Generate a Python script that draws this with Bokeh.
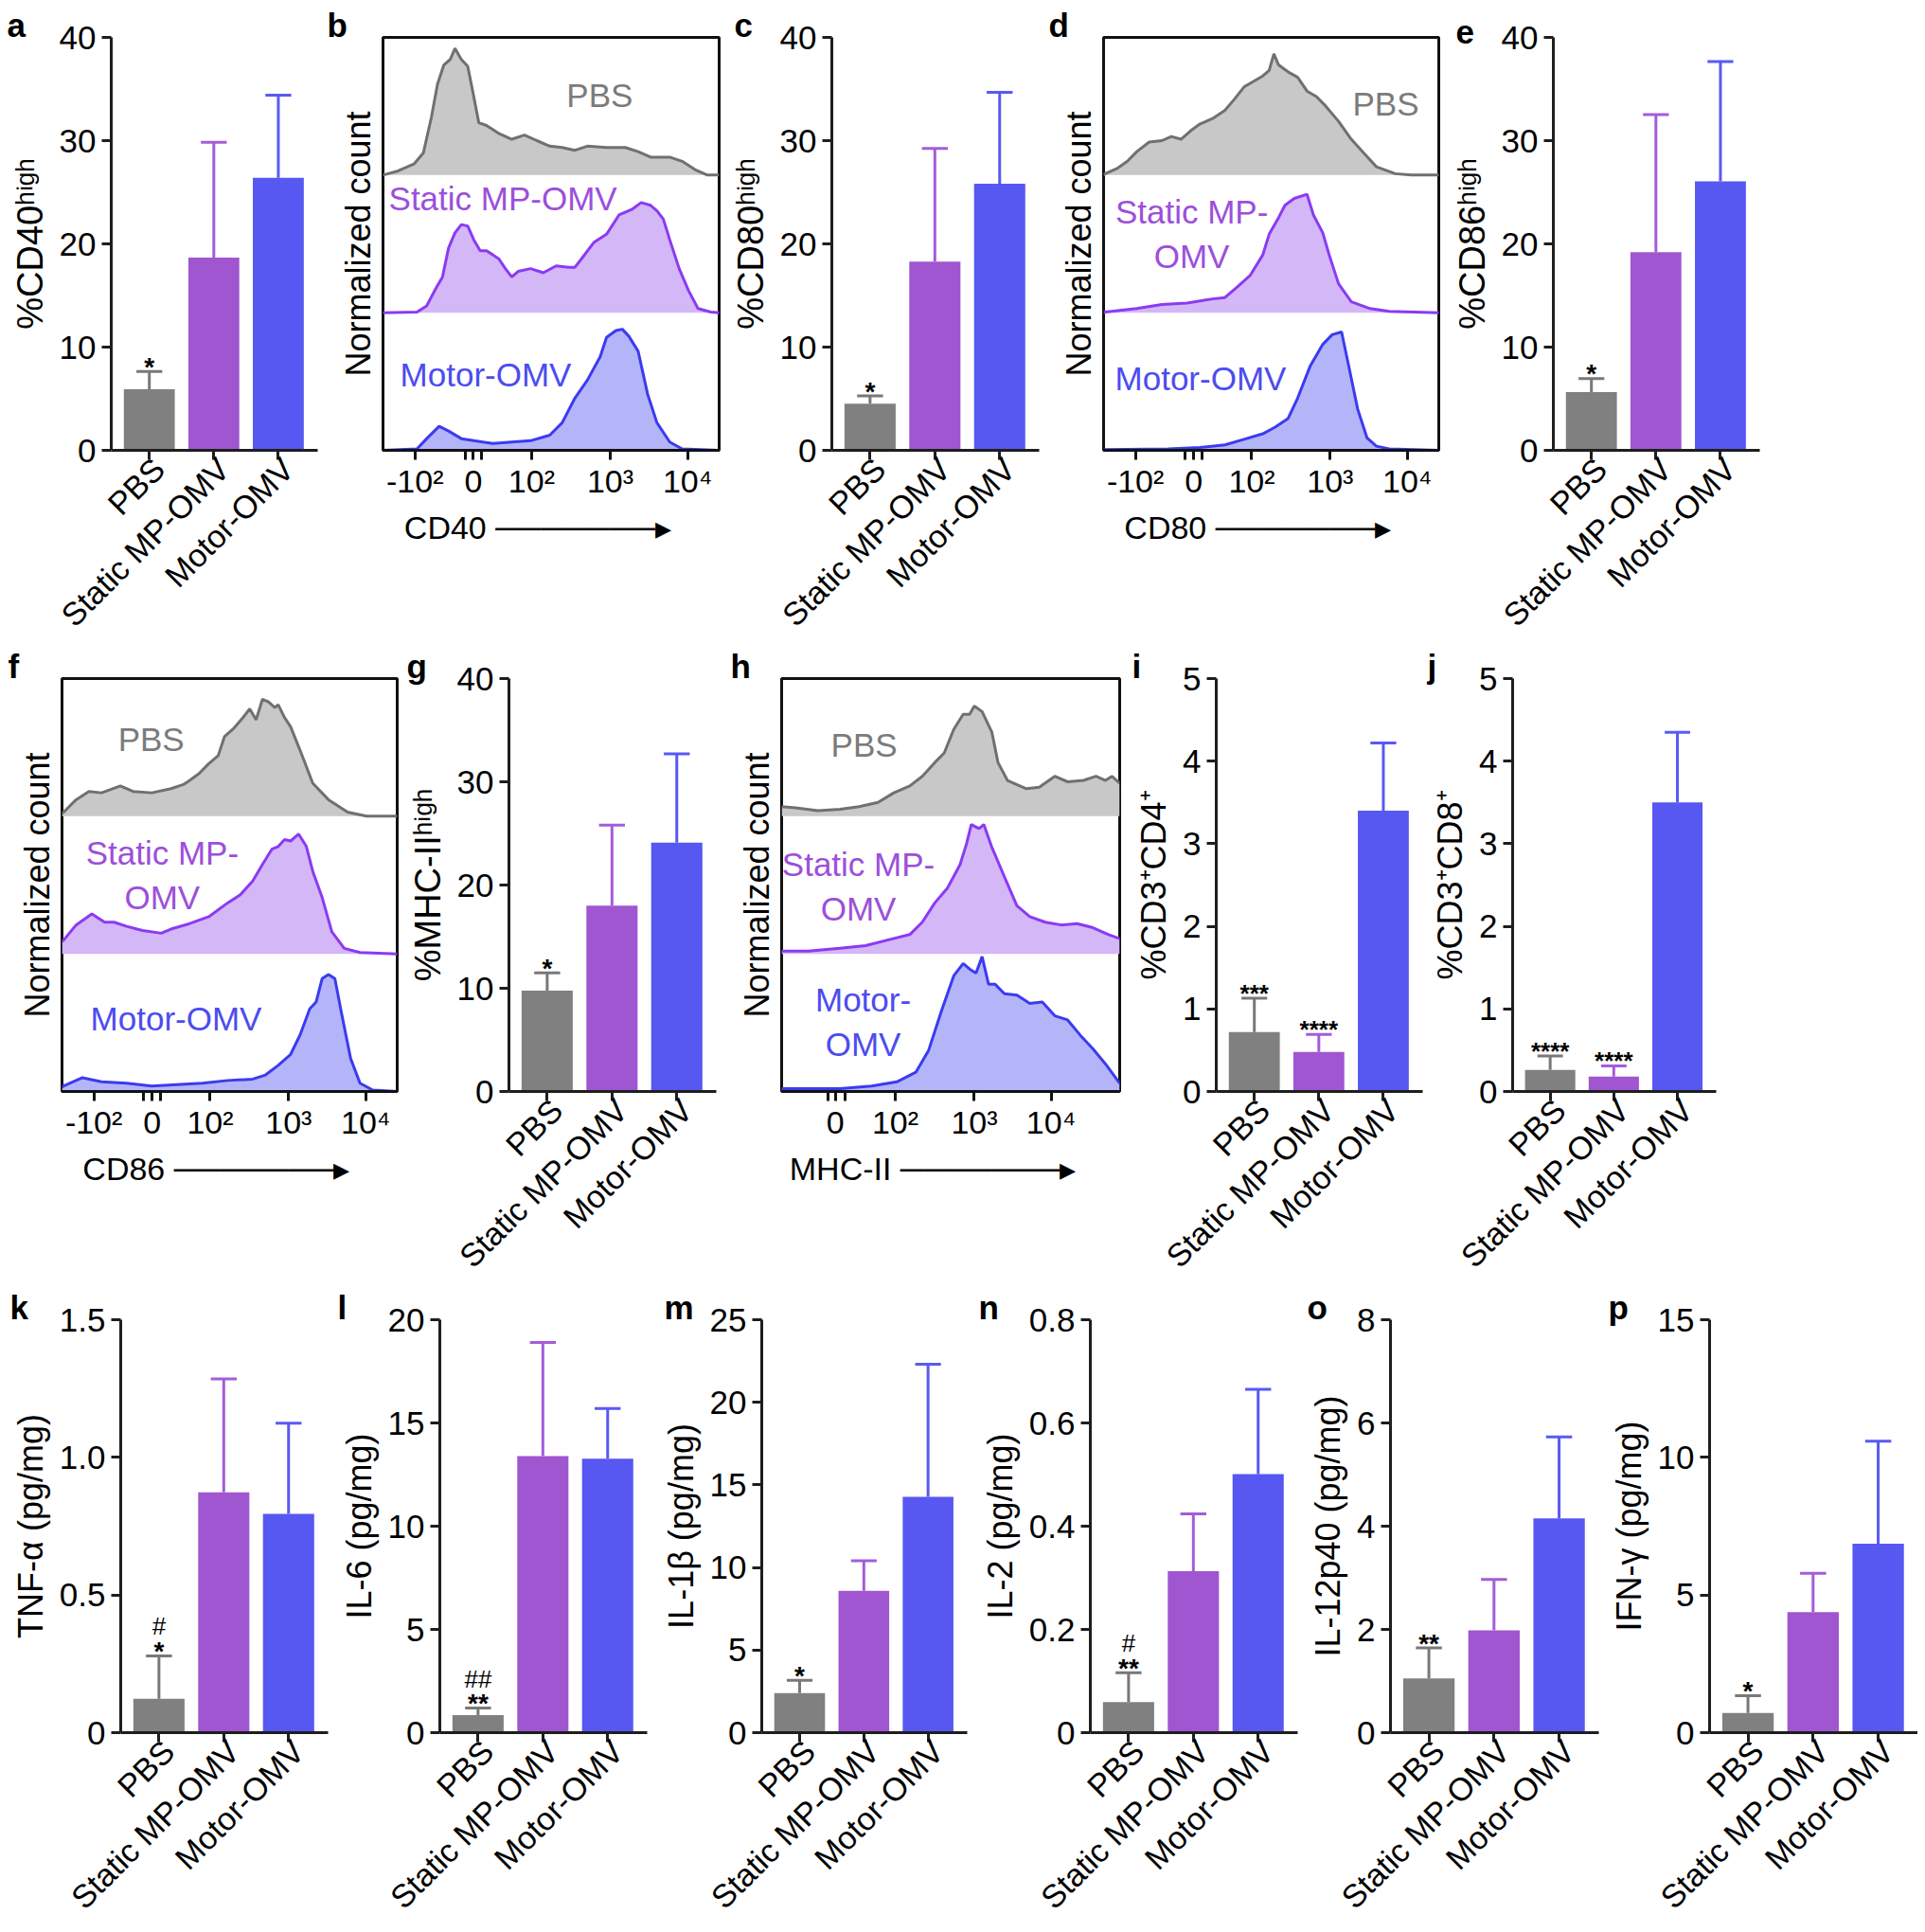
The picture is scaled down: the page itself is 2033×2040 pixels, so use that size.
import math
from bokeh.plotting import figure
from bokeh.layouts import column, row
from bokeh.models import Range1d, FixedTicker, LinearAxis
from bokeh.core.properties import value
from bokeh.embed import file_html
from bokeh.resources import INLINE

FONT = "Liberation Sans"
AXIS = "#1e1e1e"

# ---------------- categories / colours ----------------
groups = ["PBS", "Static MP-OMV", "Motor-OMV"]
bar_fill = ["#808080", "#A056D0", "#5757F2"]
err_col = ["#787878", "#A45CDA", "#5959F4"]

PBS_FILL, PBS_LINE, PBS_TXT = "#C8C8C8", "#707070", "#7B7B7B"
ST_FILL, ST_LINE, ST_TXT = "#D4B7F7", "#8A3BF2", "#9C4FDA"
MO_FILL, MO_LINE, MO_TXT = "#B4B5F8", "#3B3BF0", "#4C4CEF"

# ---------------- bar data (mean, SD) ----------------
cd40_mean = [5.92, 18.67, 26.40]; cd40_sd = [1.72, 11.16, 8.00]
cd80_mean = [4.51, 18.28, 25.83]; cd80_sd = [0.76, 10.97, 8.84]
cd86_mean = [5.64, 19.19, 26.05]; cd86_sd = [1.31, 13.34, 11.60]
mhc_mean = [9.76, 18.00, 24.10]; mhc_sd = [1.74, 7.80, 8.60]
cd4_mean = [0.72, 0.48, 3.40]; cd4_sd = [0.41, 0.21, 0.82]
cd8_mean = [0.26, 0.18, 3.50]; cd8_sd = [0.17, 0.13, 0.85]
tnf_mean = [0.123, 0.873, 0.795]; tnf_sd = [0.156, 0.412, 0.329]
il6_mean = [0.85, 13.40, 13.27]; il6_sd = [0.34, 5.50, 2.43]
il1b_mean = [2.40, 8.59, 14.28]; il1b_sd = [0.77, 1.81, 8.02]
il2_mean = [0.059, 0.313, 0.501]; il2_sd = [0.057, 0.111, 0.164]
il12_mean = [1.05, 1.98, 4.15]; il12_sd = [0.59, 0.99, 1.58]
ifng_mean = [0.71, 4.38, 6.86]; ifng_sd = [0.63, 1.41, 3.73]

# y ticks
y40_ticks = [0, 10, 20, 30, 40]; y40_lbl = ["0", "10", "20", "30", "40"]
y5_ticks = [0, 1, 2, 3, 4, 5]; y5_lbl = ["0", "1", "2", "3", "4", "5"]
tnf_ticks = [0, 0.5, 1, 1.5]; tnf_lbl = ["0", "0.5", "1.0", "1.5"]
il6_ticks = [0, 5, 10, 15, 20]; il6_lbl = ["0", "5", "10", "15", "20"]
il1b_ticks = [0, 5, 10, 15, 20, 25]; il1b_lbl = ["0", "5", "10", "15", "20", "25"]
il2_ticks = [0, 0.2, 0.4, 0.6, 0.8]; il2_lbl = ["0", "0.2", "0.4", "0.6", "0.8"]
il12_ticks = [0, 2, 4, 6, 8]; il12_lbl = ["0", "2", "4", "6", "8"]
ifng_ticks = [0, 5, 10, 15]; ifng_lbl = ["0", "5", "10", "15"]

# ---------------- histogram data (channel, normalized height) ----------------
b_pbs_ch = [0, 45, 92, 120, 144, 162, 181, 200, 214, 233, 252, 266, 285, 308, 346, 383, 421, 458, 496, 533, 571, 608, 665, 721, 759, 796, 853, 890, 928, 965, 1000]
b_pbs_h = [0.0, 0.03, 0.08, 0.16, 0.42, 0.66, 0.80, 0.84, 0.92, 0.84, 0.79, 0.62, 0.38, 0.36, 0.30, 0.26, 0.29, 0.25, 0.21, 0.20, 0.18, 0.21, 0.20, 0.20, 0.17, 0.13, 0.13, 0.10, 0.04, 0.0, 0.0]
b_st_ch = [0, 101, 130, 158, 177, 195, 214, 233, 252, 270, 289, 308, 327, 345, 364, 383, 402, 439, 477, 515, 552, 571, 590, 627, 665, 702, 740, 768, 796, 815, 834, 853, 881, 909, 937, 975, 1000]
b_st_h = [0.0, 0.005, 0.05, 0.18, 0.26, 0.47, 0.58, 0.64, 0.63, 0.53, 0.45, 0.45, 0.42, 0.39, 0.32, 0.26, 0.30, 0.32, 0.29, 0.34, 0.33, 0.33, 0.39, 0.51, 0.57, 0.71, 0.75, 0.80, 0.78, 0.74, 0.68, 0.53, 0.32, 0.16, 0.03, 0.005, 0.0]
b_mo_ch = [0, 101, 130, 167, 195, 233, 270, 327, 383, 439, 496, 533, 571, 608, 646, 665, 693, 712, 731, 759, 787, 815, 853, 890, 1000]
b_mo_h = [0.0, 0.01, 0.085, 0.175, 0.14, 0.085, 0.07, 0.05, 0.06, 0.07, 0.11, 0.20, 0.38, 0.51, 0.68, 0.82, 0.87, 0.88, 0.83, 0.72, 0.41, 0.20, 0.06, 0.01, 0.0]

d_pbs_ch = [0, 5, 42, 71, 99, 136, 174, 202, 231, 259, 287, 306, 325, 362, 390, 419, 447, 475, 494, 508, 522, 550, 579, 607, 635, 663, 701, 739, 776, 814, 870, 917, 1000]
d_pbs_h = [0.0, 0.01, 0.05, 0.10, 0.17, 0.24, 0.25, 0.28, 0.26, 0.32, 0.37, 0.39, 0.41, 0.47, 0.55, 0.64, 0.68, 0.72, 0.76, 0.88, 0.80, 0.75, 0.71, 0.61, 0.57, 0.50, 0.39, 0.26, 0.16, 0.06, 0.01, 0.0, 0.0]
d_st_ch = [0, 5, 99, 174, 249, 325, 362, 400, 437, 475, 494, 522, 541, 569, 607, 626, 654, 673, 701, 739, 795, 852, 1000]
d_st_h = [0.0, 0.005, 0.03, 0.06, 0.07, 0.10, 0.11, 0.19, 0.27, 0.42, 0.57, 0.69, 0.78, 0.83, 0.86, 0.71, 0.58, 0.42, 0.21, 0.08, 0.03, 0.01, 0.0]
d_mo_ch = [0, 5, 193, 287, 362, 419, 475, 513, 550, 579, 616, 654, 682, 710, 729, 758, 786, 814, 852, 1000]
d_mo_h = [0.0, 0.005, 0.01, 0.02, 0.04, 0.08, 0.12, 0.17, 0.23, 0.38, 0.61, 0.77, 0.84, 0.86, 0.64, 0.30, 0.09, 0.03, 0.01, 0.0]

f_pbs_ch = [0, 5, 42, 80, 118, 174, 212, 268, 325, 362, 381, 409, 437, 466, 485, 513, 541, 560, 579, 598, 616, 635, 645, 663, 682, 710, 748, 795, 852, 908, 1000]
f_pbs_h = [0.02, 0.03, 0.12, 0.18, 0.17, 0.22, 0.18, 0.17, 0.20, 0.23, 0.26, 0.31, 0.38, 0.44, 0.58, 0.64, 0.72, 0.78, 0.70, 0.85, 0.83, 0.79, 0.81, 0.72, 0.65, 0.48, 0.24, 0.12, 0.03, 0.0, 0.0]
f_st_ch = [0, 5, 42, 89, 127, 155, 193, 240, 296, 325, 381, 438, 494, 532, 569, 598, 626, 645, 664, 682, 706, 729, 748, 776, 805, 842, 889, 1000]
f_st_h = [0.09, 0.10, 0.21, 0.29, 0.23, 0.23, 0.20, 0.17, 0.15, 0.18, 0.22, 0.27, 0.37, 0.43, 0.53, 0.65, 0.76, 0.78, 0.83, 0.82, 0.87, 0.78, 0.60, 0.41, 0.16, 0.04, 0.01, 0.0]
f_mo_ch = [0, 5, 61, 118, 193, 268, 343, 419, 494, 569, 607, 645, 682, 710, 739, 758, 776, 795, 814, 833, 861, 889, 927, 1000]
f_mo_h = [0.03, 0.04, 0.10, 0.07, 0.06, 0.04, 0.05, 0.06, 0.08, 0.09, 0.12, 0.19, 0.27, 0.41, 0.60, 0.65, 0.82, 0.85, 0.82, 0.58, 0.24, 0.06, 0.01, 0.0]

h_pbs_ch = [0, 42, 107, 173, 229, 285, 332, 379, 416, 453, 481, 509, 537, 556, 570, 593, 622, 640, 668, 724, 762, 808, 846, 893, 930, 958, 977, 1000]
h_pbs_h = [0.07, 0.06, 0.04, 0.05, 0.07, 0.10, 0.17, 0.22, 0.29, 0.39, 0.46, 0.63, 0.74, 0.74, 0.80, 0.76, 0.61, 0.39, 0.26, 0.20, 0.21, 0.29, 0.25, 0.26, 0.29, 0.26, 0.29, 0.24]
h_st_ch = [0, 79, 173, 248, 313, 379, 416, 453, 491, 528, 547, 561, 584, 598, 621, 659, 696, 734, 780, 827, 874, 921, 967, 1000]
h_st_h = [0.02, 0.02, 0.04, 0.06, 0.10, 0.14, 0.23, 0.37, 0.48, 0.65, 0.80, 0.94, 0.91, 0.94, 0.78, 0.56, 0.35, 0.27, 0.23, 0.21, 0.22, 0.19, 0.14, 0.11]
h_mo_ch = [0, 173, 266, 341, 397, 435, 472, 509, 537, 556, 575, 593, 612, 631, 659, 696, 734, 771, 808, 846, 883, 921, 958, 1000]
h_mo_h = [0.02, 0.02, 0.04, 0.07, 0.14, 0.30, 0.58, 0.84, 0.93, 0.89, 0.86, 0.98, 0.78, 0.78, 0.71, 0.70, 0.64, 0.65, 0.55, 0.52, 0.41, 0.31, 0.20, 0.06]

# flow axis ticks (channel positions) and labels
bdf_ticks = [95, 269, 442, 676, 906]
bdf_lbl = ["-10\u00b2", "0", "10\u00b2", "10\u00b3", "10\u2074"]
bdf_minor = [244, 294]
h_ticks = [159, 336, 570, 797]
h_lbl = ["0", "10\u00b2", "10\u00b3", "10\u2074"]
h_minor = [136, 187]

ARROW = "\u2500" * 7 + "\u25b8"
CAT_LABEL_SHIFT = 0.15   # rotated category labels sit a little right of their tick (GraphPad style)


def base_fig(W, H, L, R, T, B, xr, yr):
    p = figure(width=W, height=H, x_range=xr, y_range=yr,
               min_border_left=L, min_border_right=R, min_border_top=T, min_border_bottom=B,
               output_backend="svg", toolbar_location=None, tools="")
    p.grid.visible = False
    p.outline_line_color = None
    p.background_fill_color = "white"
    p.border_fill_color = "white"
    return p


def add_letter(p, letter, dx):
    t = p.title
    t.text = letter
    t.align = "left"
    t.offset = dx
    t.text_font = FONT
    t.text_font_size = "35px"
    t.text_font_style = "bold"
    t.text_color = "black"
    t.standoff = -12


def bar_panel(letter, ldx, ylabel, ylab_size, means, sds, yt, yl, sig, W, H, L, R, T, B, sig_size=28):
    p = base_fig(W, H, L, R, T, B, Range1d(0.41, 3.61), Range1d(0, yt[-1]))
    xs = [1, 2, 3]
    p.vbar(x=xs, top=means, bottom=0, width=0.79, fill_color=bar_fill, line_color=None)
    tops = [m + s for m, s in zip(means, sds)]
    p.segment(x0=xs, y0=means, x1=xs, y1=tops, line_color=err_col, line_width=3)
    p.segment(x0=[x - 0.2 for x in xs], y0=tops, x1=[x + 0.2 for x in xs], y1=tops,
              line_color=err_col, line_width=3)
    for idx, low, up in sig:
        p.text(x=[xs[idx]], y=[tops[idx]], text=[low], text_align="center", text_baseline="alphabetic",
               text_font=value(FONT), text_font_size=value(f"{sig_size}px"), text_font_style="bold",
               text_color="black", y_offset=-5)
        if up:
            p.text(x=[xs[idx]], y=[tops[idx]], text=[up], text_align="center", text_baseline="alphabetic",
                   text_font=value(FONT), text_font_size=value("26px"), text_color="black", y_offset=-31)
    xa = p.xaxis[0]
    ya = p.yaxis[0]
    # tick marks only on the main x axis (its own labels are not painted)
    xa.ticker = FixedTicker(ticks=xs)
    xa.major_label_text_font_size = "1px"
    xa.major_label_text_color = None
    xa.major_label_standoff = 0
    ya.ticker = FixedTicker(ticks=yt)
    ya.major_label_overrides = {t: s for t, s in zip(yt, yl)}
    for ax in (xa, ya):
        ax.axis_line_color = AXIS
        ax.axis_line_width = 3
        ax.major_tick_line_color = AXIS
        ax.major_tick_line_width = 3
        ax.major_tick_out = 10
        ax.major_tick_in = 0
        ax.minor_tick_line_color = None
        ax.major_label_text_font = FONT
    ya.major_label_text_color = "black"
    # category names on a second, line-less axis stacked under the first
    lab_pos = [x + CAT_LABEL_SHIFT for x in xs]
    la = LinearAxis(ticker=FixedTicker(ticks=lab_pos),
                    major_label_overrides={t: g for t, g in zip(lab_pos, groups)},
                    major_label_orientation=math.pi / 4,
                    axis_line_color=None, major_tick_line_color=None, minor_tick_line_color=None,
                    major_tick_out=0, major_tick_in=0, minor_tick_out=0, major_label_standoff=4,
                    major_label_text_font=FONT, major_label_text_font_size="34px",
                    major_label_text_color="black")
    p.add_layout(la, "below")
    ya.major_label_text_font_size = "35px"
    ya.major_label_standoff = 6
    ya.axis_label = ylabel
    ya.axis_label_text_font = FONT
    ya.axis_label_text_font_size = ylab_size
    ya.axis_label_text_font_style = "normal"
    ya.axis_label_text_color = "black"
    ya.axis_label_standoff = 7
    add_letter(p, letter, ldx)
    return p


def hist_panel(letter, ldx, series, ticks, tlbl, minor, labels, xlabel, W, H, L, R, T, B):
    p = base_fig(W, H, L, R, T, B, Range1d(0, 1000), Range1d(0, 3))
    p.outline_line_color = "#111111"
    p.outline_line_width = 3
    for ch, hh, base, fill, line in series:
        y2 = [base + v for v in hh]
        p.varea(x=ch, y1=[base] * len(ch), y2=y2, fill_color=fill)
        p.line(x=ch, y=y2, line_color=line, line_width=3)
    for x, y, txt, align, col in labels:
        p.text(x=[x], y=[y], text=[txt], text_align=align, text_baseline="middle", text_color=col,
               text_font=value(FONT), text_font_size=value("35px"), text_line_height=1.2)
    xa = p.xaxis[0]
    ya = p.yaxis[0]
    xa.ticker = FixedTicker(ticks=ticks, minor_ticks=minor)
    xa.major_label_overrides = {t: s for t, s in zip(ticks, tlbl)}
    xa.axis_line_color = "#111111"
    xa.axis_line_width = 3
    xa.major_tick_line_color = "#111111"
    xa.major_tick_line_width = 3
    xa.major_tick_out = 10
    xa.major_tick_in = 0
    xa.minor_tick_line_color = "#111111"
    xa.minor_tick_line_width = 3
    xa.minor_tick_out = 10
    xa.minor_tick_in = 0
    xa.major_label_text_font = FONT
    xa.major_label_text_font_size = "34px"
    xa.major_label_text_color = "black"
    xa.major_label_standoff = 3
    xa.axis_label = xlabel
    xa.axis_label_text_font = FONT
    xa.axis_label_text_font_size = "34px"
    xa.axis_label_text_font_style = "normal"
    xa.axis_label_text_color = "black"
    xa.axis_label_standoff = 8
    ya.ticker = FixedTicker(ticks=[])
    ya.axis_line_color = None
    ya.major_tick_line_color = None
    ya.minor_tick_line_color = None
    ya.major_tick_out = 0
    ya.minor_tick_out = 0
    ya.major_label_standoff = 0
    ya.axis_label = "Normalized count"
    ya.axis_label_text_font = FONT
    ya.axis_label_text_font_size = "36px"
    ya.axis_label_text_font_style = "normal"
    ya.axis_label_text_color = "black"
    ya.axis_label_standoff = 6
    add_letter(p, letter, ldx)
    return p


def series_of(pbs, st, mo):
    return [(pbs[0], pbs[1], 2, PBS_FILL, PBS_LINE),
            (st[0], st[1], 1, ST_FILL, ST_LINE),
            (mo[0], mo[1], 0, MO_FILL, MO_LINE)]


b_labels = [(546, 2.58, "PBS", "left", PBS_TXT), (17, 1.83, "Static MP-OMV", "left", ST_TXT),
            (51, 0.55, "Motor-OMV", "left", MO_TXT)]
d_labels = [(743, 2.52, "PBS", "left", PBS_TXT), (263, 1.57, "Static MP-\nOMV", "center", ST_TXT),
            (34, 0.52, "Motor-OMV", "left", MO_TXT)]
f_labels = [(266, 2.56, "PBS", "center", PBS_TXT), (299, 1.57, "Static MP-\nOMV", "center", ST_TXT),
            (85, 0.53, "Motor-OMV", "left", MO_TXT)]
h_labels = [(244, 2.52, "PBS", "center", PBS_TXT), (227, 1.49, "Static MP-\nOMV", "center", ST_TXT),
            (241, 0.505, "Motor-\nOMV", "center", MO_TXT)]

HI = "\u02b0\u2071\u1d4d\u02b0"

# ---------------- row 1 ----------------
H1, T1, B1 = 685, 39, 208
fa = bar_panel("a", -110, "%CD40" + HI, "38px", cd40_mean, cd40_sd, y40_ticks, y40_lbl,
               [(0, "*", None)], 340, H1, 117, 5, T1, B1)
fb = hist_panel("b", -59, series_of((b_pbs_ch, b_pbs_h), (b_st_ch, b_st_h), (b_mo_ch, b_mo_h)),
                bdf_ticks, bdf_lbl, bdf_minor, b_labels, "CD40  " + ARROW + "  ", 425, H1, 64, 6, T1, B1)
fc = bar_panel("c", -103, "%CD80" + HI, "38px", cd80_mean, cd80_sd, y40_ticks, y40_lbl,
               [(0, "*", None)], 335, H1, 113, 3, T1, B1)
fd = hist_panel("d", -58, series_of((d_pbs_ch, d_pbs_h), (d_st_ch, d_st_h), (d_mo_ch, d_mo_h)),
                bdf_ticks, bdf_lbl, bdf_minor, d_labels, "CD80  " + ARROW + "  ", 430, H1, 65, 11, T1, B1)
fe = bar_panel("e", -103, "%CD86" + HI, "38px", cd86_mean, cd86_sd, y40_ticks, y40_lbl,
               [(0, "*", None)], 370, H1, 108, 42, T1, B1)

# ---------------- row 2 ----------------
H2, T2, B2 = 677, 31, 208
ff = hist_panel("f", -57, series_of((f_pbs_ch, f_pbs_h), (f_st_ch, f_st_h), (f_mo_ch, f_mo_h)),
                bdf_ticks, bdf_lbl, bdf_minor, f_labels, "CD86  " + ARROW + "  ", 425, H2, 65, 6, T2, B2)
fg = bar_panel("g", -108, "%MHC-II" + HI, "38px", mhc_mean, mhc_sd, y40_ticks, y40_lbl,
               [(0, "*", None)], 345, H2, 112, 14, T2, B2)
fh = hist_panel("h", -54, series_of((h_pbs_ch, h_pbs_h), (h_st_ch, h_st_h), (h_mo_ch, h_mo_h)),
                h_ticks, h_lbl, h_minor, h_labels, "MHC-II   " + ARROW + "  ", 420, H2, 55, 8, T2, B2)
fi = bar_panel("i", -89, "%CD3\u207aCD4\u207a", "36px", cd4_mean, cd4_sd, y5_ticks, y5_lbl,
               [(0, "***", None), (1, "****", None)], 315, H2, 94, 3, T2, B2, sig_size=26)
fj = bar_panel("j", -90, "%CD3\u207aCD8\u207a", "36px", cd8_mean, cd8_sd, y5_ticks, y5_lbl,
               [(0, "****", None), (1, "****", None)], 395, H2, 92, 88, T2, B2, sig_size=26)

# ---------------- row 3 ----------------
H3, T3, B3 = 677, 31, 208
fk = bar_panel("k", -117, "TNF-\u03b1 (pg/mg)", "36px", tnf_mean, tnf_sd, tnf_ticks, tnf_lbl,
               [(0, "*", "#")], 350, H3, 127, 4, T3, B3)
fl = bar_panel("l", -108, "IL-6 (pg/mg)", "36px", il6_mean, il6_sd, il6_ticks, il6_lbl,
               [(0, "**", "##")], 345, H3, 114, 12, T3, B3)
fm = bar_panel("m", -103, "IL-1\u03b2 (pg/mg)", "36px", il1b_mean, il1b_sd, il1b_ticks, il1b_lbl,
               [(0, "*", None)], 335, H3, 108, 9, T3, B3)
fn = bar_panel("n", -118, "IL-2 (pg/mg)", "36px", il2_mean, il2_sd, il2_ticks, il2_lbl,
               [(0, "**", "#")], 348, H3, 121, 8, T3, B3)
fo = bar_panel("o", -88, "IL-12p40 (pg/mg)", "36px", il12_mean, il12_sd, il12_ticks, il12_lbl,
               [(0, "**", None)], 317, H3, 90, 7, T3, B3)
fp = bar_panel("p", -107, "IFN-\u03b3 (pg/mg)", "36px", ifng_mean, ifng_sd, ifng_ticks, ifng_lbl,
               [(0, "*", None)], 330, H3, 110, 0, T3, B3)

layout = column(row(fa, fb, fc, fd, fe), row(ff, fg, fh, fi, fj), row(fk, fl, fm, fn, fo, fp))

open("out.html", "w").write(file_html(layout, INLINE, "Figure"))
